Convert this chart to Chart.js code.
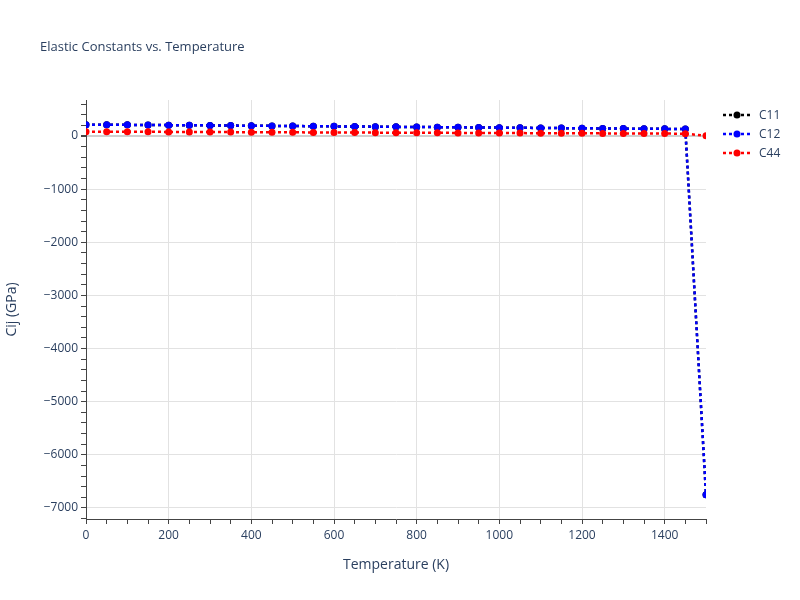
<!DOCTYPE html>
<html>
<head>
    <title>Elastic Constants vs. Temperature</title>
    <script src="https://cdn.jsdelivr.net/npm/chart.js"></script>
    <style>
        body { margin: 0; background: #fff; font-family: "Open Sans", Verdana, Arial, sans-serif; }
        #wrap { position: relative; width: 800px; height: 600px; }
        #titulo { position: absolute; left: 40px; top: 37px; font-size: 13px; color: #2a3f5f; }
        #legenda { position: absolute; left: 722px; top: 105px; font-size: 12px; color: #2a3f5f; }
        .item { height: 19px; display: flex; align-items: center; }
        .item canvas { margin-right: 7px; }
    </style>
</head>
<body>
<div id="wrap">
    <canvas id="myChart" width="800" height="600"></canvas>
    <div id="titulo">Elastic Constants vs. Temperature</div>
    <div id="legenda"></div>
</div>

<script>
    // dados
    var temperaturas = [0, 50, 100, 150, 200, 250, 300, 350, 400, 450, 500, 550, 600, 650, 700, 750,
        800, 850, 900, 950, 1000, 1050, 1100, 1150, 1200, 1250, 1300, 1350, 1400, 1450, 1500];
    var c11 = [213, 212, 209, 207, 204, 201, 199, 196, 193, 190, 187, 184, 181, 178, 175, 172,
        169, 166, 163, 160, 157, 154, 151, 148, 145, 142, 139, 136, 134, 132, -6750];
    var c12 = [213, 212, 209, 207, 204, 201, 199, 196, 193, 190, 187, 184, 181, 178, 175, 172,
        169, 166, 163, 160, 157, 154, 151, 148, 145, 142, 139, 136, 134, 132, -6750];
    var c44 = [81, 80, 79, 78, 77, 75, 74, 73, 71, 70, 69, 67, 66, 65, 63, 62,
        61, 59, 58, 57, 55, 54, 53, 51, 50, 49, 47, 46, 45, 43, 5];
    var nomes = ['C11', 'C12', 'C44'];
    var cores = ['#000000', '#0000ff', '#ff0000'];

    var fonte = '"Open Sans", Verdana, Arial, sans-serif';
    var corTexto = '#2a3f5f';

    function pontos(ys) {
        return temperaturas.map(function (t, i) { return {x: t, y: ys[i]}; });
    }

    function serie(i, ys) {
        return {
            label: nomes[i],
            data: pontos(ys),
            borderColor: cores[i],
            backgroundColor: cores[i],
            borderWidth: 2.5,
            borderDash: [3, 3],
            pointRadius: 3.5,
            pointHoverRadius: 3.5,
            pointBorderWidth: 0,
            tension: 0,
            order: 3 - i
        };
    }

    function menos(v) {
        return v < 0 ? '\u2212' + Math.abs(v) : String(v);
    }

    var ctx = document.getElementById('myChart').getContext('2d');
    var myChart = new Chart(ctx, {
        type: 'line',
        data: {
            datasets: [serie(0, c11), serie(1, c12), serie(2, c44)]
        },
        options: {
            responsive: false,
            animation: false,
            layout: { padding: { left: 0, top: 100, right: 94, bottom: 27 } },
            plugins: { legend: { display: false }, title: { display: false }, tooltip: { enabled: false } },
            scales: {
                x: {
                    type: 'linear',
                    min: 0,
                    max: 1500,
                    afterFit: function (s) { s.height = 54; },
                    ticks: {
                        stepSize: 50,
                        autoSkip: false,
                        maxRotation: 0,
                        color: corTexto,
                        font: { family: fonte, size: 12 },
                        padding: 4,
                        callback: function (v) { return v % 200 === 0 ? String(v) : ''; }
                    },
                    grid: {
                        color: function (c) { return c.tick.value % 200 === 0 && c.tick.value !== 0 ? '#e2e2e2' : 'rgba(0,0,0,0)'; },
                        tickColor: '#444',
                        tickLength: 5
                    },
                    border: { display: true, color: '#444', width: 1 },
                    title: {
                        display: true,
                        text: 'Temperature (K)',
                        color: corTexto,
                        font: { family: fonte, size: 14 },
                        padding: { top: 0, bottom: 0 }
                    }
                },
                y: {
                    type: 'linear',
                    min: -7207,
                    max: 677,
                    afterFit: function (s) { s.width = 86; },
                    ticks: {
                        stepSize: 200,
                        includeBounds: false,
                        autoSkip: false,
                        color: corTexto,
                        font: { family: fonte, size: 12 },
                        padding: 3,
                        callback: function (v) { return v % 1000 === 0 ? menos(v) : ''; }
                    },
                    grid: {
                        color: function (c) {
                            if (c.tick.value === 0) return '#d0d0d0';
                            return c.tick.value % 1000 === 0 ? '#e2e2e2' : 'rgba(0,0,0,0)';
                        },
                        lineWidth: function (c) { return c.tick.value === 0 ? 2 : 1; },
                        tickColor: '#444',
                        tickLength: 5
                    },
                    border: { display: true, color: '#444', width: 1 },
                    title: {
                        display: true,
                        text: 'Cij (GPa)',
                        color: corTexto,
                        font: { family: fonte, size: 14 },
                        padding: { bottom: 0 }
                    }
                }
            }
        }
    });

    // legenda no estilo plotly
    var legenda = document.getElementById('legenda');
    nomes.forEach(function (nome, i) {
        var item = document.createElement('div');
        item.className = 'item';
        var c = document.createElement('canvas');
        c.width = 30; c.height = 10;
        var g = c.getContext('2d');
        g.strokeStyle = cores[i];
        g.lineWidth = 2.5;
        g.setLineDash([3, 3]);
        g.beginPath(); g.moveTo(1, 5); g.lineTo(29, 5); g.stroke();
        g.fillStyle = cores[i];
        g.beginPath(); g.arc(15, 5, 3.5, 0, Math.PI * 2); g.fill();
        item.appendChild(c);
        var span = document.createElement('span');
        span.textContent = nome;
        item.appendChild(span);
        legenda.appendChild(item);
    });
</script>
</body>
</html>
